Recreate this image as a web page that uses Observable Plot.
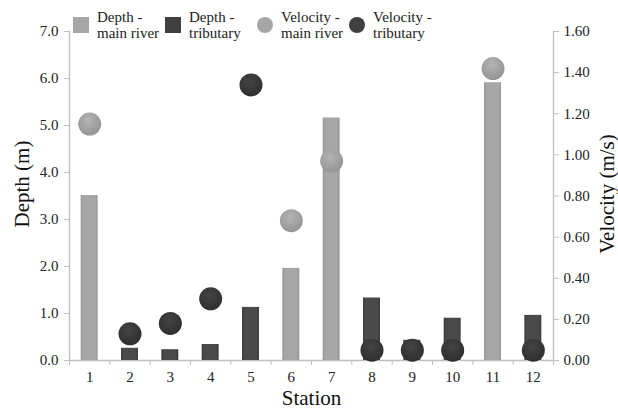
<!DOCTYPE html>
<html>
<head>
<meta charset="utf-8">
<script src="https://cdn.jsdelivr.net/npm/d3@7"></script>
<script src="https://cdn.jsdelivr.net/npm/@observablehq/plot@0.6"></script>
<style>
  body { margin: 0; background: #fff; }
  #wrap { position: relative; width: 618px; height: 409px; }
  #legend { position: absolute; left: 73px; top: 9px; display: flex; }
  .item { display: flex; align-items: center; width: 92px; }
  .sym { width: 16px; height: 16px; margin-right: 8px; flex: none; }
  .txt { font-size: 15px; line-height: 16px; color: #222; }
</style>
</head>
<body>
<div id="wrap"><div id="legend"></div></div>
<script>
const stations = [1, 2, 3, 4, 5, 6, 7, 8, 9, 10, 11, 12];
const depth = [3.51, 0.26, 0.23, 0.34, 1.13, 1.96, 5.16, 1.33, 0.43, 0.90, 5.91, 0.96];
const velocity = [1.15, 0.13, 0.18, 0.30, 1.34, 0.68, 0.97, 0.05, 0.05, 0.05, 1.42, 0.05];
const river = ["main", "trib", "trib", "trib", "trib", "main", "main", "trib", "trib", "trib", "main", "trib"];
const depthTicks = [0, 1, 2, 3, 4, 5, 6, 7];
const velocityTicks = [0, 0.2, 0.4, 0.6, 0.8, 1.0, 1.2, 1.4, 1.6];
const legendItems = [
  {label: ["Depth -", "main river"], shape: "square", kind: "main"},
  {label: ["Depth -", "tributary"], shape: "square", kind: "trib"},
  {label: ["Velocity -", "main river"], shape: "circle", kind: "main"},
  {label: ["Velocity -", "tributary"], shape: "circle", kind: "trib"}
];

const depthMax = 7, velMax = 1.6;
const k = depthMax / velMax;
const data = stations.map((s, i) => ({s, depth: depth[i], vel: velocity[i], river: river[i]}));
const barFill = {main: "url(#barMain)", trib: "url(#barTrib)"};
const dotFill = {main: "url(#dotMain)", trib: "url(#dotTrib)"};
const axisGray = "#bfbfbf";
const half = 0.21;
const bounds = d3.range(0.5, 13, 1);
const serif = "'Liberation Serif', 'Times New Roman', serif";

const chart = Plot.plot({
  width: 618, height: 409,
  marginLeft: 69, marginRight: 65, marginTop: 31, marginBottom: 49,
  style: {fontFamily: serif, color: "#222", background: "white"},
  x: {domain: [0.5, 12.5]},
  y: {domain: [0, depthMax]},
  marks: [
    Plot.ruleX([0.5, 12.5], {stroke: axisGray, strokeWidth: 1.3}),
    Plot.ruleY([0], {stroke: axisGray, strokeWidth: 1.3}),
    Plot.axisY({ticks: depthTicks, tickFormat: d3.format(".1f"), tickSize: 5, tickPadding: 6, stroke: axisGray, fontSize: 15, label: null}),
    Plot.axisY({anchor: "right", ticks: velocityTicks.map(v => v * k), tickFormat: d => d3.format(".2f")(d / k), tickSize: 5, tickPadding: 5, stroke: axisGray, fontSize: 15, label: null}),
    Plot.axisX({ticks: bounds, tickFormat: () => "", tickSize: 5, stroke: axisGray, label: null}),
    Plot.axisX({ticks: stations, tickFormat: d => d, tickSize: 0, tickPadding: 11, fontSize: 15, label: null}),
    Plot.rectY(data, {x1: d => d.s - half, x2: d => d.s + half, y1: 0, y2: "depth", fill: d => barFill[d.river]}),
    Plot.dot(data, {x: "s", y: d => d.vel * k, r: 11.5, fill: d => dotFill[d.river], stroke: "none"}),
    Plot.text(["Depth (m)"], {frameAnchor: "left", dx: -47, dy: -12, rotate: -90, textAnchor: "middle", lineAnchor: "middle", fontSize: 21, fill: "#111"}),
    Plot.text(["Velocity (m/s)"], {frameAnchor: "right", dx: 54, dy: -2, rotate: -90, textAnchor: "middle", lineAnchor: "middle", fontSize: 21, fill: "#111"}),
    Plot.text(["Station"], {frameAnchor: "bottom", dy: 38, textAnchor: "middle", lineAnchor: "middle", fontSize: 21, fill: "#111"})
  ]
});

d3.select(chart).style("font-family", serif);
d3.select(chart).selectAll("text, g").style("font-family", serif);

// gradient definitions used as fills
const defs = d3.select(chart).insert("defs", ":first-child");
function lin(id, c0, c1) {
  const g = defs.append("linearGradient").attr("id", id).attr("x1", 0).attr("x2", 1).attr("y1", 0).attr("y2", 0);
  g.append("stop").attr("offset", "0%").attr("stop-color", c0);
  g.append("stop").attr("offset", "15%").attr("stop-color", c1);
  g.append("stop").attr("offset", "85%").attr("stop-color", c1);
  g.append("stop").attr("offset", "100%").attr("stop-color", c0);
}
function rad(id, c0, c1) {
  const g = defs.append("radialGradient").attr("id", id).attr("cx", "45%").attr("cy", "35%").attr("r", "65%");
  g.append("stop").attr("offset", "0%").attr("stop-color", c0);
  g.append("stop").attr("offset", "100%").attr("stop-color", c1);
}
lin("barMain", "#959595", "#a6a6a6");
lin("barTrib", "#383838", "#4a4a4a");
rad("dotMain", "#b4b4b4", "#949494");
rad("dotTrib", "#444444", "#2e2e2e");

document.getElementById("wrap").prepend(chart);

const solid = {main: "#a6a6a6", trib: "#404040"};
const legend = d3.select("#legend");
legendItems.forEach(it => {
  const item = legend.append("div").attr("class", "item");
  item.append("div").attr("class", "sym")
    .style("background", solid[it.kind])
    .style("border-radius", it.shape === "circle" ? "50%" : "0");
  const t = item.append("div").attr("class", "txt").style("font-family", serif);
  it.label.forEach(l => t.append("div").style("font-family", serif).text(l));
});
</script>
</body>
</html>
